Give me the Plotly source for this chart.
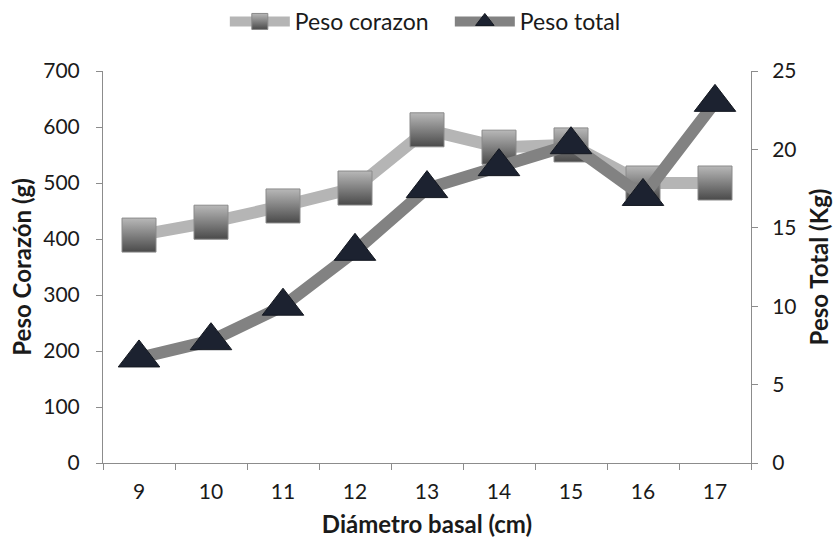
import plotly.graph_objects as go

diametro = ["9", "10", "11", "12", "13", "14", "15", "16", "17"]
peso_corazon = [407, 430, 459, 491, 595, 564, 568, 500, 500]
peso_total = [6.7, 7.8, 10.0, 13.5, 17.5, 18.9, 20.3, 17.0, 23.0]

font_family = "Lato, 'Open Sans', sans-serif"
text_color = "#1a1a1a"

fig = go.Figure()

fig.add_trace(go.Scatter(
    x=diametro, y=peso_corazon, name="Peso corazon",
    mode="lines+markers",
    line=dict(color="#b5b5b5", width=12),
    marker=dict(symbol="square", size=34, color="#b8b8b8",
                gradient=dict(type="vertical", color="#4a4a4a"),
                line=dict(color="#8a8a8a", width=1)),
    yaxis="y",
))

fig.add_trace(go.Scatter(
    x=diametro, y=peso_total, name="Peso total",
    mode="lines+markers",
    line=dict(color="#828282", width=12),
    marker=dict(symbol="triangle-up", size=36, color="#1c2230",
                line=dict(color="#141820", width=1)),
    yaxis="y2",
))

axis_common = dict(
    showgrid=False, zeroline=False, showline=True, linecolor="#8c8c8c",
    linewidth=1, ticks="outside", tickcolor="#8c8c8c", ticklen=6,
    tickfont=dict(size=21, color=text_color, family=font_family),
)

fig.update_layout(
    width=840, height=545,
    paper_bgcolor="white", plot_bgcolor="white",
    margin=dict(l=103, r=85, t=71, b=82),
    font=dict(family=font_family, color=text_color),
    showlegend=True,
    legend=dict(orientation="h", x=0.188, xanchor="left", y=1.0, yanchor="top",
                yref="container", font=dict(size=23, color=text_color),
                itemwidth=60, tracegroupgap=0,
                entrywidth=150, entrywidthmode="pixels"),
    xaxis=dict(
        **axis_common, type="category", tickson="boundaries",
        range=[-0.5, 8.5], ticklabelstandoff=10,
        title=dict(text="<b>Diámetro basal (cm)</b>", font=dict(size=24), standoff=13),
    ),
    yaxis=dict(
        **axis_common, range=[0, 700], dtick=100, ticklabelstandoff=12,
        title=dict(text="<b>Peso Corazón (g)</b>", font=dict(size=24), standoff=4),
    ),
    yaxis2=dict(
        **axis_common, range=[0, 25], dtick=5, overlaying="y", side="right",
        ticklabelstandoff=10,
        title=dict(text="<b>Peso Total (Kg)</b>", font=dict(size=24), standoff=15),
    ),
)

fig.write_html("out.html")
